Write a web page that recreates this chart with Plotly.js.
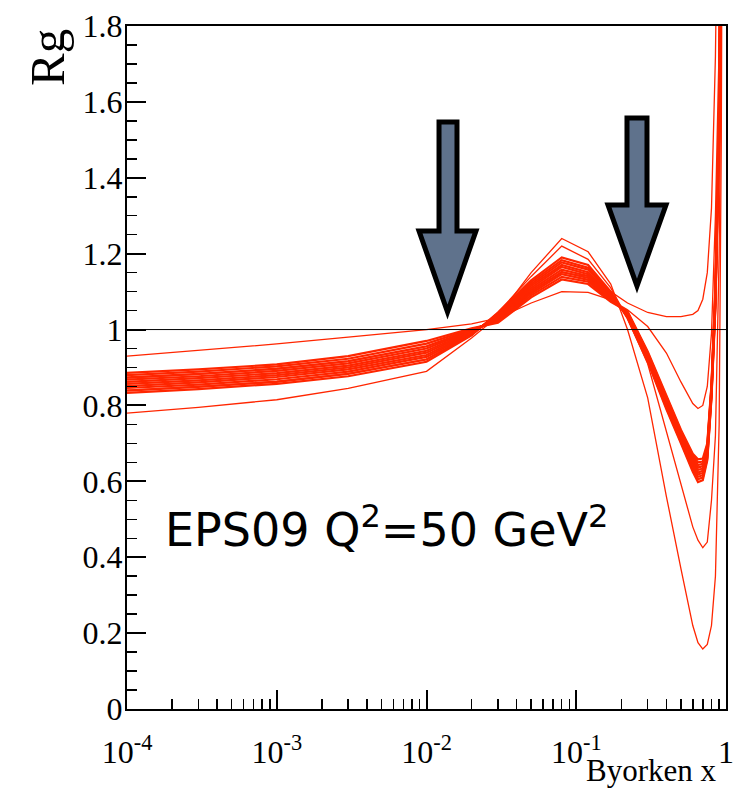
<!DOCTYPE html>
<html><head><meta charset="utf-8">
<script src="https://cdn.plot.ly/plotly-3.0.1.min.js"></script>
<style>html,body{margin:0;padding:0;background:#fff}#chart{width:739px;height:789px}</style>
</head><body><div id="chart"></div>
<script>
// Byorken x sampling points (shared by all curves)
const xGrid = [0.0001,0.0003,0.001,0.003,0.01,0.02,0.03,0.05,0.08,0.12,0.17,0.22,0.3,0.4,0.5,0.6,0.65,0.7,0.75,0.8,0.85,0.9,0.93,0.96,0.98];

// EPS09 gluon nuclear modification Rg, one array per error set
const rgA  = [0.930,0.945,0.962,0.980,1.000,1.015,1.030,1.070,1.100,1.098,1.078,1.052,1.008,0.938,0.862,0.805,0.792,0.800,0.850,0.990,1.300,1.750,2.100,2.600,3.000];
const rgC1 = [0.872,0.882,0.896,0.916,0.955,0.995,1.030,1.100,1.150,1.140,1.100,1.070,1.045,1.034,1.034,1.040,1.050,1.080,1.150,1.320,1.720,2.300,2.800,3.300,3.600];
const rgC3 = [0.780,0.795,0.815,0.845,0.890,0.978,1.035,1.150,1.240,1.205,1.120,1.000,0.820,0.560,0.370,0.220,0.175,0.158,0.170,0.220,0.350,0.750,1.500,3.000,4.000];
const rgC4 = [0.840,0.850,0.864,0.884,0.922,0.985,1.045,1.140,1.220,1.185,1.110,1.030,0.910,0.730,0.590,0.480,0.445,0.425,0.440,0.550,0.720,1.200,1.800,2.600,3.200];
const rgB1 = [0.833,0.843,0.857,0.877,0.915,0.985,1.045,1.130,1.190,1.170,1.100,1.030,0.915,0.790,0.700,0.625,0.598,0.603,0.655,0.820,1.060,1.500,1.950,2.800,3.400];
const rgB2 = [0.839,0.849,0.862,0.883,0.921,0.987,1.042,1.125,1.183,1.163,1.097,1.032,0.918,0.794,0.704,0.630,0.606,0.610,0.660,0.824,1.066,1.510,1.960,2.810,3.410];
const rgB3 = [0.846,0.855,0.869,0.889,0.928,0.989,1.039,1.120,1.177,1.158,1.094,1.034,0.921,0.798,0.708,0.636,0.612,0.616,0.664,0.828,1.072,1.520,1.970,2.820,3.420];
const rgB4 = [0.851,0.861,0.875,0.895,0.933,0.991,1.036,1.115,1.170,1.151,1.091,1.036,0.924,0.802,0.712,0.641,0.618,0.622,0.670,0.832,1.078,1.530,1.980,2.830,3.430];
const rgB5 = [0.857,0.866,0.880,0.900,0.939,0.993,1.033,1.110,1.165,1.146,1.088,1.038,0.927,0.806,0.716,0.646,0.623,0.628,0.676,0.836,1.084,1.540,1.990,2.840,3.440];
const rgB6 = [0.862,0.872,0.885,0.905,0.944,0.995,1.030,1.105,1.158,1.141,1.085,1.040,0.930,0.810,0.720,0.652,0.630,0.634,0.680,0.840,1.090,1.550,2.000,2.850,3.450];
const rgB7 = [0.868,0.877,0.891,0.911,0.950,0.997,1.027,1.100,1.152,1.136,1.082,1.042,0.933,0.814,0.724,0.657,0.636,0.640,0.686,0.844,1.096,1.560,2.010,2.860,3.460];
const rgB8 = [0.874,0.883,0.897,0.917,0.956,0.999,1.024,1.095,1.146,1.131,1.079,1.044,0.936,0.818,0.728,0.663,0.643,0.646,0.690,0.848,1.102,1.570,2.020,2.870,3.470];
const rgB9 = [0.880,0.889,0.903,0.923,0.963,1.001,1.021,1.090,1.139,1.126,1.076,1.046,0.939,0.822,0.732,0.668,0.650,0.652,0.695,0.852,1.108,1.580,2.030,2.880,3.480];
const rgB10= [0.886,0.895,0.908,0.930,0.970,1.003,1.018,1.085,1.132,1.120,1.073,1.048,0.942,0.826,0.736,0.673,0.658,0.660,0.700,0.856,1.114,1.590,2.040,2.890,3.490];

const outliers = [rgA, rgC1, rgC3, rgC4];
const band = [rgB1, rgB2, rgB3, rgB4, rgB5, rgB6, rgB7, rgB8, rgB9, rgB10];

// axis ticks
const xTickVals = [0.0001, 0.001, 0.01, 0.1, 1];
const xTickText = ['10<sup>-4</sup>', '10<sup>-3</sup>', '10<sup>-2</sup>', '10<sup>-1</sup>', '1'];
const yTickVals = [0, 0.2, 0.4, 0.6, 0.8, 1, 1.2, 1.4, 1.6, 1.8];
const yTickText = ['0', '0.2', '0.4', '0.6', '0.8', '1', '1.2', '1.4', '1.6', '1.8'];
const xMinorVals = [];
[0.0001, 0.001, 0.01, 0.1].forEach(d => { for (let k = 2; k <= 9; k++) xMinorVals.push(d * k); });

const red = 'rgb(255,38,0)';
const mk = (c, w) => ({
  type: 'scatter', mode: 'lines', x: xGrid, y: c,
  line: {color: red, width: w}, hoverinfo: 'skip', showlegend: false
});
const traces = band.map(c => mk(c, 2.2)).concat(outliers.map(c => mk(c, 1.3)));

// plot area in pixels: x 127..726, y 26..709
const L = 127, R = 726, T = 26, B = 709;
const px = (x) => (x - L) / (R - L);
const py = (y) => (B - y) / (B - T);
function arrowPath(pts) {
  return 'M' + pts.map(p => px(p[0]).toFixed(4) + ',' + py(p[1]).toFixed(4)).join(' L') + ' Z';
}
const arrow1 = arrowPath([[439,122],[457,122],[457,231],[476,231],[447.5,312],[419,231],[439,231]]);
const arrow2 = arrowPath([[627,118],[647,118],[647,205],[666,205],[637,286],[608,205],[627,205]]);

const serif = 'Liberation Serif, Times New Roman, serif';
const axisCommon = {
  ticks: 'inside', ticklen: 19, tickwidth: 2, tickcolor: '#000',
  showline: true, linewidth: 2, linecolor: '#000', mirror: true,
  showgrid: false, zeroline: false,
  tickfont: {family: serif, size: 32, color: '#000'}
};

const layout = {
  width: 739, height: 789,
  margin: {l: L, r: 739 - R, t: T, b: 789 - B, pad: 0},
  paper_bgcolor: '#fff', plot_bgcolor: '#fff',
  showlegend: false,
  xaxis: Object.assign({}, axisCommon, {
    type: 'log', range: [-4, 0], tickmode: 'array', tickvals: xTickVals, ticktext: xTickText,
    ticklabelstandoff: 14,
    minor: {tickmode: 'array', tickvals: xMinorVals, ticks: 'inside', ticklen: 10, tickwidth: 1.5, tickcolor: '#000', showgrid: false}
  }),
  yaxis: Object.assign({}, axisCommon, {
    range: [0, 1.8], tickmode: 'array', tickvals: yTickVals, ticktext: yTickText,
    ticklabelstandoff: -4,
    minor: {dtick: 0.05, ticks: 'inside', ticklen: 10, tickwidth: 1.5, tickcolor: '#000', showgrid: false}
  }),
  shapes: [
    {type: 'line', xref: 'paper', yref: 'y', x0: 0, x1: 1, y0: 1, y1: 1, line: {color: '#000', width: 1}, layer: 'above'},
    {type: 'path', xref: 'paper', yref: 'paper', path: arrow1, fillcolor: '#5f728c', line: {color: '#000', width: 5}, layer: 'above'},
    {type: 'path', xref: 'paper', yref: 'paper', path: arrow2, fillcolor: '#5f728c', line: {color: '#000', width: 5}, layer: 'above'}
  ],
  annotations: [
    {text: 'Rg', xref: 'paper', yref: 'paper', x: px(47), y: py(58), xanchor: 'center', yanchor: 'middle',
     textangle: -90, showarrow: false, font: {family: serif, size: 49, color: '#000'}},
    {text: 'Byorken x', xref: 'paper', yref: 'paper', x: px(719), y: py(770), xanchor: 'right', yanchor: 'middle',
     showarrow: false, font: {family: serif, size: 31, color: '#000'}},
    {text: 'EPS09 Q<sup>2</sup>=50 GeV<sup>2</sup>', xref: 'paper', yref: 'paper', x: px(163), y: py(527),
     xanchor: 'left', yanchor: 'middle', showarrow: false, font: {family: 'DejaVu Sans, sans-serif', size: 46, color: '#000'}}
  ]
};

Plotly.newPlot('chart', traces, layout, {displayModeBar: false, staticPlot: true});
</script>
</body></html>
